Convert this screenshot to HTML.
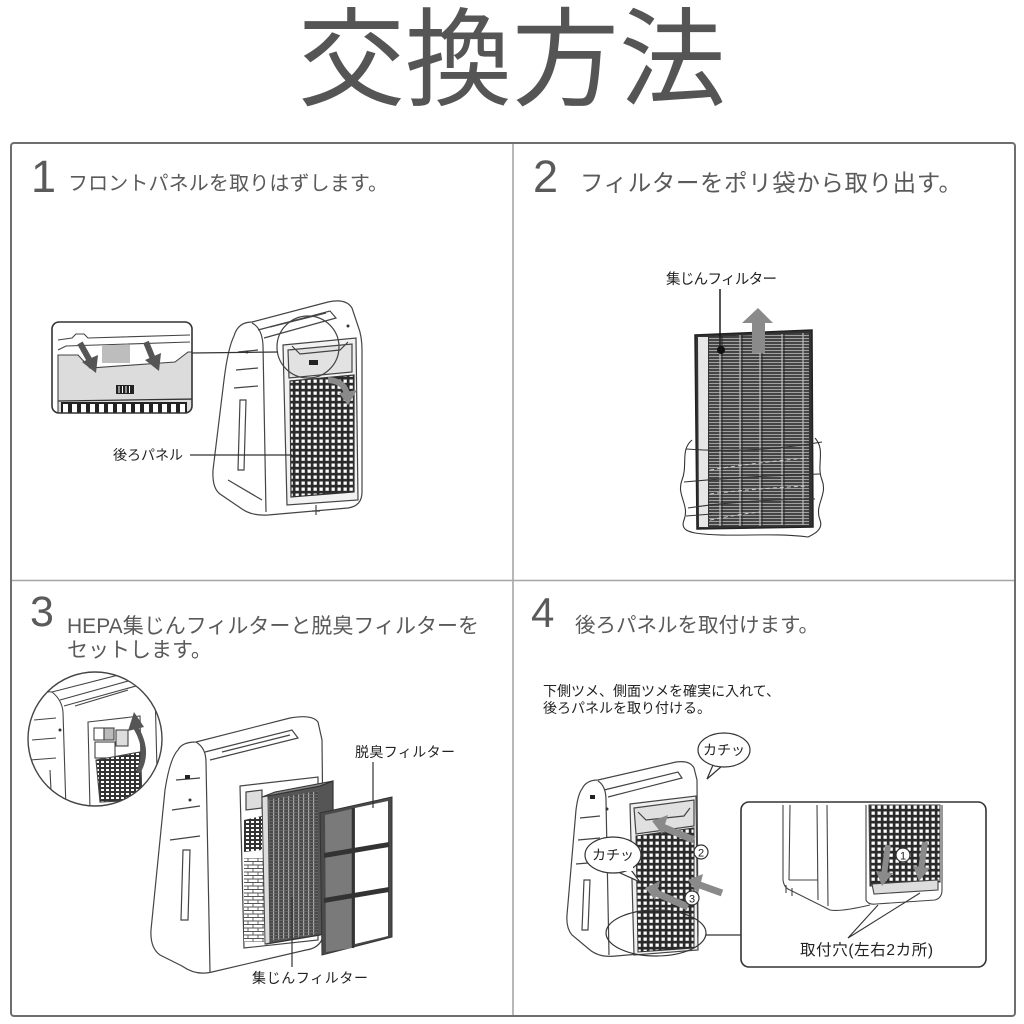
<!DOCTYPE html>
<html><head><meta charset="utf-8"><style>
html,body{margin:0;padding:0;background:#fff;}
svg{display:block;}
text{font-family:"Liberation Sans","Noto Sans CJK JP",sans-serif;}
</style></head><body>
<svg width="1024" height="1024" viewBox="0 0 1024 1024" xmlns="http://www.w3.org/2000/svg">
<defs>
<pattern id="perf" width="6" height="6" patternUnits="userSpaceOnUse"><rect width="6" height="6" fill="#2b2b2b"/><rect x="1.5" y="1.5" width="3.3" height="3.3" fill="#fff"/></pattern>
<pattern id="perfs" width="5" height="4" patternUnits="userSpaceOnUse"><rect width="5" height="4" fill="#333"/><rect x="1" y="1" width="3" height="2" fill="#fff"/></pattern>
<pattern id="pleat" width="4" height="3" patternUnits="userSpaceOnUse"><rect width="4" height="3" fill="#454545"/><rect y="2" width="4" height="1" fill="#a0a0a0"/></pattern>
<pattern id="vpleat" width="5" height="3" patternUnits="userSpaceOnUse"><rect width="5" height="3" fill="#4a4a4a"/><rect x="3" width="1.2" height="3" fill="#aaa"/><rect y="2" width="5" height="0.6" fill="#777"/></pattern>
<pattern id="brick" width="10" height="7" patternUnits="userSpaceOnUse"><rect width="10" height="7" fill="#fff"/><path d="M0,0.5H10M0,4H10M3,0.5V4M8,4V7" stroke="#555" stroke-width="0.9" fill="none"/></pattern>
<clipPath id="c1"><rect x="52" y="322" width="140" height="91" rx="7"/></clipPath>
<clipPath id="c3"><circle cx="95" cy="739" r="67"/></clipPath>
<clipPath id="c4"><rect x="741" y="802" width="245" height="165" rx="8"/></clipPath>
</defs>

<!-- Title -->
<text x="512" y="97" font-size="107" fill="#555" text-anchor="middle" font-weight="400">交換方法</text>

<!-- Frame -->
<rect x="11" y="143" width="1004" height="873" rx="3" fill="none" stroke="#6e6e6e" stroke-width="2"/>
<line x1="513" y1="144" x2="513" y2="1015" stroke="#a6a6a6" stroke-width="1.6"/>
<line x1="12" y1="580.5" x2="1014" y2="580.5" stroke="#a6a6a6" stroke-width="1.6"/>

<!-- Headings -->
<g fill="#5a5a5a">
<text x="31" y="192" font-size="45">1</text>
<text x="68" y="190" font-size="20" textLength="320" lengthAdjust="spacing">フロントパネルを取りはずします。</text>
<text x="533" y="192" font-size="45">2</text>
<text x="580" y="191" font-size="23.5" textLength="382" lengthAdjust="spacing">フィルターをポリ袋から取り出す。</text>
<text x="30" y="626" font-size="43">3</text>
<text x="67" y="633" font-size="21" textLength="412" lengthAdjust="spacing">HEPA集じんフィルターと脱臭フィルターを</text>
<text x="67" y="657" font-size="21">セットします。</text>
<text x="531" y="627" font-size="42">4</text>
<text x="575" y="632" font-size="20.5" textLength="244" lengthAdjust="spacing">後ろパネルを取付けます。</text>
</g>
<g fill="#222">
<text x="543" y="696" font-size="14" textLength="237" lengthAdjust="spacing">下側ツメ、側面ツメを確実に入れて、</text>
<text x="543" y="713" font-size="14">後ろパネルを取り付ける。</text>
</g>

<!-- ===== Step 1 ===== -->
<g stroke="#444" stroke-width="1.2" fill="none">
<path d="M234,336 Q238,322 252,322 L328,302 Q346,298 352,308 L358,326 Q362,336 362,350 L362,492 Q362,506 348,508 L268,515 Q252,516 242,509 L220,494 Q212,488 213,470 L224,380 Q228,348 234,336 Z" fill="#fff"/>
<path d="M252,323 Q262,328 263,345 L266,512"/>
<path d="M258,330 L330,311 L336,318 L264,338"/>
<path d="M270,327 L326,313"/>
<path d="M238,352 L258,350 M236,370 L258,368 M234,388 L258,386"/>
<path d="M240,400 L246,400 L244,470 L238,470 Z"/>
<path d="M228,480 L262,500"/>
<path d="M283,345 L356,338 L358,500 L287,505 Z" fill="#f2f2f2"/>
<path d="M288,350 L352,344 L352,372 L289,378 Z" fill="#e2e2e2"/>
<path d="M292,346 L300,354 L340,350 L348,342"/>
<polygon points="290,381 354,375 354,492 291,497" fill="url(#perf)" stroke="#333"/>
<circle cx="308" cy="347" r="31"/>
<path d="M316,505 L316,515 M312,511 L320,511"/>
</g>
<rect x="309" y="360" width="9" height="5" fill="#222"/>
<path d="M328,380 Q344,381 347,394" stroke="#8a8a8a" stroke-width="6" fill="none"/>
<polygon points="339,393 357,390 348,405" fill="#8a8a8a"/>
<circle cx="348" cy="326" r="1.5" fill="#333"/>
<circle cx="247" cy="352" r="1.5" fill="#333"/>

<!-- Step 1 inset -->
<rect x="52" y="322" width="140" height="91" rx="7" fill="#fff"/>
<g clip-path="url(#c1)" stroke="#444" stroke-width="1.1">
<path d="M58,340 L72,338 L76,334 L84,334 L88,338 L190,335" fill="none"/>
<path d="M58,350 L66,346 L190,342" fill="none"/>
<rect x="102" y="345" width="28" height="18" fill="#bdbdbd" stroke="none"/>
<path d="M58,355 L78,355 L90,368 L175,362 L188,352 L195,352 L195,415 L58,415 Z" fill="#dcdcdc"/>
<rect x="116" y="385" width="18" height="9" fill="#222" stroke="none"/>
<path d="M119,386V393M122.5,386V393M126,386V393M129.5,386V393" stroke="#fff" stroke-width="1"/>
<path d="M58,401 L195,399" stroke="#333" stroke-width="1.3"/>
</g>
<g clip-path="url(#c1)">
<g fill="#fff" stroke="#222" stroke-width="2">
<rect x="62" y="403" width="7" height="12"/><rect x="71" y="403" width="7" height="12"/><rect x="80" y="403" width="7" height="12"/><rect x="89" y="403" width="7" height="12"/><rect x="98" y="403" width="7" height="12"/><rect x="107" y="403" width="7" height="12"/><rect x="116" y="403" width="7" height="12"/><rect x="125" y="403" width="7" height="12"/><rect x="134" y="403" width="7" height="12"/><rect x="143" y="403" width="7" height="12"/><rect x="152" y="403" width="7" height="12"/><rect x="161" y="403" width="7" height="12"/><rect x="170" y="403" width="7" height="12"/><rect x="179" y="403" width="7" height="12"/>
</g>
<path d="M80,343 L90,361" stroke="#555" stroke-width="6"/>
<polygon points="82,362 98,355 96,373" fill="#555"/>
<path d="M146,342 L153,359" stroke="#555" stroke-width="6"/>
<polygon points="145,360 161,353 159,371" fill="#555"/>
</g>
<rect x="52" y="322" width="140" height="91" rx="7" fill="none" stroke="#333" stroke-width="1.6"/>
<line x1="192" y1="353" x2="278" y2="352" stroke="#333" stroke-width="1.2"/>
<text x="113" y="460" font-size="14" fill="#222">後ろパネル</text>
<line x1="190" y1="455" x2="292" y2="455" stroke="#333" stroke-width="1.2"/>

<!-- ===== Step 2 ===== -->
<text x="666" y="284" font-size="14.5" fill="#222" textLength="111" lengthAdjust="spacing">集じんフィルター</text>
<polygon points="695,335 812,330 813,527 697,529" fill="#333" stroke="#222" stroke-width="1.5"/>
<polygon points="698,337 708,337 708,527 699,527" fill="#e6e6e6"/>
<polygon points="709,337 809,333 809,525 709,526" fill="url(#pleat)"/>
<g stroke="#bbb" stroke-width="1.2">
<line x1="720" y1="336" x2="720" y2="526"/><line x1="740" y1="335" x2="740" y2="526"/><line x1="760" y1="334" x2="760" y2="526"/><line x1="782" y1="334" x2="782" y2="525"/><line x1="803" y1="333" x2="803" y2="525"/>
</g>
<g stroke="#222" stroke-width="1"><line x1="722" y1="336" x2="722" y2="526"/><line x1="742" y1="335" x2="742" y2="526"/><line x1="762" y1="334" x2="762" y2="526"/><line x1="784" y1="334" x2="784" y2="525"/></g>
<rect x="752" y="322" width="13" height="31" fill="#8a8a8a"/>
<polygon points="742,323 773,323 758,308" fill="#8a8a8a"/>
<line x1="720" y1="289" x2="720" y2="347" stroke="#111" stroke-width="1.4"/>
<circle cx="721" cy="350" r="4" fill="#111"/>
<g stroke="#333" stroke-width="1.1" fill="none">
<path d="M692,440 C680,450 688,465 682,480 C676,495 690,505 684,520 C680,530 690,532 695,533"/>
<path d="M815,438 C826,450 816,465 822,480 C828,495 814,505 820,520 C824,530 812,535 808,537"/>
<path d="M695,533 C730,538 770,532 808,537"/>
<path d="M686,449 Q750,454 822,442"/>
<path d="M684,482 Q750,476 820,474"/>
<path d="M688,508 Q740,500 815,499"/>
<path d="M686,516 L712,514"/>
</g>
<g stroke="#ccc" stroke-width="1" stroke-dasharray="4,3" fill="none">
<path d="M710,470 Q760,462 808,458"/><path d="M710,494 Q760,488 808,486"/><path d="M710,520 Q740,514 760,512"/>
</g>

<!-- ===== Step 3 ===== -->
<circle cx="95" cy="739" r="67" fill="#fff"/>
<g clip-path="url(#c3)" stroke="#444" stroke-width="1.1" fill="none">
<path d="M30,705 Q38,690 52,692 L130,672 Q150,668 155,690 L158,810"/>
<path d="M52,692 Q62,700 63,712 L66,810"/>
<path d="M60,700 L132,680 L136,686 L64,706"/>
<path d="M75,706 L128,690"/>
<path d="M34,720 L56,718 M32,740 L56,738 M30,760 L56,758"/>
<path d="M40,780 L40,810 M50,770 L52,810"/>
<path d="M88,722 L140,716 L142,810 L90,810 Z" fill="#fff"/>
<rect x="94" y="728" width="10" height="12" fill="#fff"/>
<rect x="104" y="728" width="10" height="12" fill="#bbb"/>
<rect x="116" y="730" width="12" height="16" fill="#ddd"/>
<rect x="95" y="742" width="20" height="16" fill="#fff"/>
<polygon points="96,760 140,752 142,800 100,802" fill="url(#perfs)"/>
</g>
<path d="M138,772 Q150,752 136,728" stroke="#555" stroke-width="5" fill="none"/>
<polygon points="128,731 144,727 134,712" fill="#555"/>
<circle cx="95" cy="739" r="67" fill="none" stroke="#444" stroke-width="1.4"/>
<circle cx="60" cy="730" r="1.5" fill="#333"/>

<g stroke="#444" stroke-width="1.2" fill="none">
<path d="M178,750 Q182,742 196,742 L290,718 Q312,714 318,722 L322,740 L324,932 Q322,948 306,950 L212,972 Q196,976 182,966 L160,955 Q150,948 151,930 L165,790 Q170,758 178,750 Z" fill="#fff"/>
<path d="M196,742 Q206,748 206,762 L210,972"/>
<path d="M205,752 L292,730 L298,738 L210,760"/>
<path d="M222,752 L290,735"/>
<path d="M176,780 L200,778 M172,810 L200,806 M170,840 L200,836"/>
<path d="M183,850 L190,850 L188,920 L181,920 Z"/>
<path d="M240,786 L318,777 L318,940 L244,948 Z" fill="#fff"/>
<path d="M246,792 L262,790 L262,808 L246,810 Z" fill="#ddd"/>
<rect x="244" y="858" width="20" height="84" fill="url(#brick)" stroke="none"/>
<path d="M244,820 L262,816 L262,850 L244,852 Z" fill="url(#perfs)" stroke="none"/>
</g>
<circle cx="190" cy="800" r="1.5" fill="#333"/><rect x="185" y="775" width="5" height="4" fill="#222"/>
<polygon points="262,797 320,786 333,781 333,930 320,935 266,944" fill="#555" stroke="#333" stroke-width="1.2"/>
<polygon points="262,797 320,786 333,781 275,792" fill="#888" stroke="#333"/>
<polygon points="266,800 318,791 318,934 268,941" fill="url(#vpleat)"/>
<polygon points="262,797 268,796 270,943 265,944" fill="#ddd" stroke="#444" stroke-width="1"/>
<polygon points="320,813 392,797 392,937 322,955" fill="#4a4a4a" stroke="#333"/>
<polygon points="325,815 352,809 352,948 326,952" fill="#7a7a7a"/>
<polygon points="355,808 388,801 388,936 355,944" fill="#fff"/>
<polygon points="324,853 389,842 389,847 324,858" fill="#333"/>
<polygon points="324,898 389,887 389,892 324,903" fill="#333"/>
<line x1="353" y1="808" x2="353" y2="948" stroke="#333" stroke-width="2.5"/>
<text x="355" y="757" font-size="14" fill="#222" textLength="100" lengthAdjust="spacing">脱臭フィルター</text>
<line x1="373" y1="762" x2="373" y2="808" stroke="#333" stroke-width="1.2"/>
<line x1="292" y1="897" x2="292" y2="967" stroke="#333" stroke-width="1.2"/>
<text x="252" y="983" font-size="14" fill="#222" textLength="116" lengthAdjust="spacing">集じんフィルター</text>

<!-- ===== Step 4 ===== -->
<g stroke="#444" stroke-width="1.2" fill="none">
<path d="M582,789 Q586,780 598,780 L676,762 Q690,760 694,768 L697,780 L698,935 Q698,948 686,950 L616,956 Q600,958 590,950 L572,935 Q566,928 567,915 L576,810 Q578,794 582,789 Z" fill="#fff"/>
<path d="M598,781 Q606,786 606,800 L609,955"/>
<path d="M604,790 L678,772 L682,778 L608,797"/>
<path d="M580,818 L600,816 M578,840 L600,838 M576,864 L600,862"/>
<path d="M584,880 L590,880 L588,930 L582,930 Z"/>
<path d="M630,804 L696,796 L698,950 L634,955 Z" fill="#f0f0f0"/>
<path d="M634,808 L694,800 L694,826 L636,834 Z" fill="#e0e0e0"/>
<path d="M638,812 L646,820 L684,816 L690,808"/>
</g>
<polygon points="636,836 694,828 694,948 638,952" fill="url(#perf)" stroke="#333" stroke-width="1"/>
<circle cx="607" cy="809" r="1.5" fill="#333"/><rect x="590" y="795" width="5" height="4" fill="#222"/>
<g fill="#8a8a8a">
<path d="M694,840 L660,826" stroke="#8a8a8a" stroke-width="7"/>
<polygon points="652,821 668,815 662,834"/>
<path d="M722,893 L697,884" stroke="#8a8a8a" stroke-width="7"/>
<polygon points="688,880 703,874 698,894"/>
<path d="M688,907 L654,892" stroke="#8a8a8a" stroke-width="7"/>
<polygon points="645,888 660,881 655,900"/>
</g>
<circle cx="701" cy="852" r="7" fill="#fff" stroke="#333" stroke-width="1.2"/>
<text x="701" y="856.5" font-size="11" fill="#222" text-anchor="middle">2</text>
<circle cx="692" cy="898" r="7" fill="#fff" stroke="#333" stroke-width="1.2"/>
<text x="692" y="902.5" font-size="11" fill="#222" text-anchor="middle">3</text>
<path d="M713,765 L707,779 L722,766" fill="#fff" stroke="#333" stroke-width="1.2"/>
<ellipse cx="724" cy="750" rx="26" ry="17" fill="#fff" stroke="#333" stroke-width="1.2"/>
<path d="M628,866 L640,882 L618,872" fill="#fff" stroke="#333" stroke-width="1.2"/>
<ellipse cx="613" cy="855" rx="28" ry="18" fill="#fff" stroke="#333" stroke-width="1.2"/>
<rect x="617" y="865" width="16" height="6" fill="#fff"/>
<text x="724" y="755" font-size="14" fill="#222" text-anchor="middle">カチッ</text>
<text x="613" y="860" font-size="14" fill="#222" text-anchor="middle">カチッ</text>
<ellipse cx="656" cy="933" rx="50" ry="23" fill="none" stroke="#333" stroke-width="1.2"/>
<line x1="706" y1="935" x2="741" y2="935" stroke="#333" stroke-width="1.2"/>
<rect x="741" y="802" width="245" height="165" rx="8" fill="#fff"/>
<g clip-path="url(#c4)" stroke="#444" stroke-width="1.1" fill="none">
<path d="M783,805 L783,880 Q784,888 790,890 L830,910 Q840,912 870,905"/>
<path d="M790,805 L789,880"/>
<path d="M817,805 L818,900 M827,805 L828,906"/>
<path d="M789,880 L818,880"/>
<path d="M786,885 L786,893 M792,888 L792,896"/>
<path d="M866,805 L866,900 Q868,905 876,904 L935,900 Q942,898 942,890 L942,805"/>
<polygon points="869,805 940,805 940,882 870,886" fill="url(#perf)"/>
<path d="M872,884 L938,880 L938,890 L874,894 Z" fill="#ddd"/>
</g>
<g fill="#8a8a8a">
<path d="M888,845 L884,875" stroke="#8a8a8a" stroke-width="6"/><polygon points="876,871 893,873 882,886"/>
<path d="M925,842 L921,870" stroke="#8a8a8a" stroke-width="6"/><polygon points="913,866 930,868 919,881"/>
</g>
<circle cx="903" cy="855" r="7" fill="#fff" stroke="#333" stroke-width="1.2"/>
<text x="903" y="859.5" font-size="11" fill="#222" text-anchor="middle">1</text>
<path d="M878,905 L848,938 L920,893" stroke="#333" stroke-width="1.1" fill="none"/>
<text x="800" y="955" font-size="15.5" fill="#222" textLength="133" lengthAdjust="spacing">取付穴(左右2カ所)</text>
<rect x="741" y="802" width="245" height="165" rx="8" fill="none" stroke="#333" stroke-width="1.6"/>
</svg>
</body></html>
